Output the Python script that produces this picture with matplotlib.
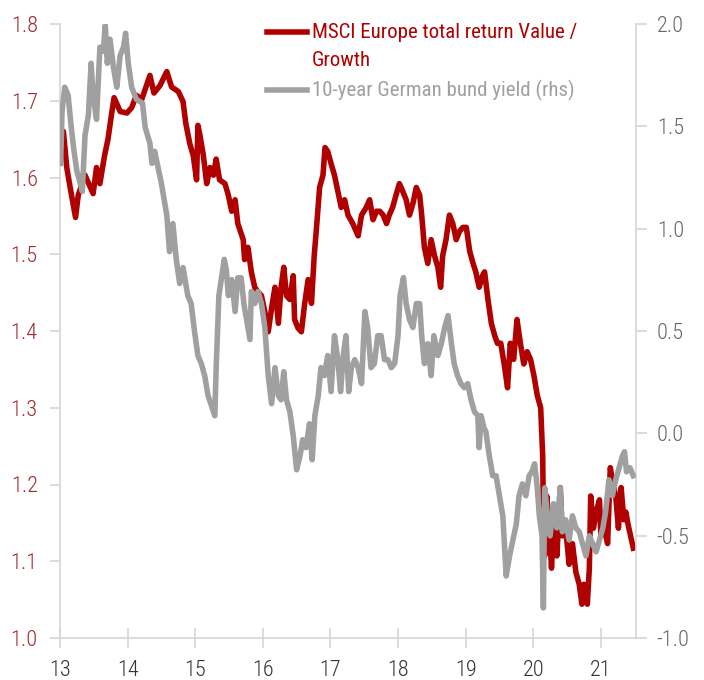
import matplotlib.pyplot as plt
from matplotlib.lines import Line2D

plt.rcParams['font.family'] = ['Roboto Condensed', 'Archivo Narrow', 'PT Sans Narrow',
                               'Liberation Sans Narrow', 'DejaVu Sans']

# MSCI Europe total return Value / Growth (lhs)
value_growth_x = [
    13.02, 13.05, 13.10, 13.15, 13.23, 13.27, 13.37, 13.49, 13.54, 13.59,
    13.66, 13.71, 13.76, 13.80, 13.89, 13.99, 14.06, 14.13, 14.21, 14.33,
    14.39, 14.48, 14.58, 14.65, 14.75, 14.82, 14.86, 14.92, 14.97, 15.02,
    15.04, 15.07, 15.12, 15.17, 15.22, 15.27, 15.31, 15.36, 15.44, 15.49,
    15.54, 15.59, 15.63, 15.71, 15.73, 15.78, 15.83, 15.88, 15.93, 15.98,
    16.03, 16.08, 16.13, 16.18, 16.23, 16.27, 16.31, 16.35, 16.40, 16.45,
    16.47, 16.52, 16.57, 16.62, 16.67, 16.72, 16.76, 16.79, 16.84, 16.89,
    16.92, 16.96, 17.01, 17.06, 17.11, 17.16, 17.21, 17.26, 17.33, 17.41,
    17.46, 17.53, 17.58, 17.63, 17.68, 17.73, 17.78, 17.83, 17.87, 17.92,
    17.97, 18.02, 18.07, 18.12, 18.17, 18.22, 18.27, 18.32, 18.35, 18.39,
    18.44, 18.49, 18.54, 18.59, 18.63, 18.66, 18.71, 18.76, 18.81, 18.86,
    18.91, 18.96, 19.01, 19.06, 19.11, 19.15, 19.20, 19.25, 19.28, 19.33,
    19.38, 19.43, 19.47, 19.52, 19.57, 19.62, 19.66, 19.71, 19.76, 19.81,
    19.86, 19.91, 19.96, 20.01, 20.06, 20.11, 20.14, 20.15, 20.17, 20.20,
    20.24, 20.27, 20.31, 20.35, 20.40, 20.43, 20.48, 20.53, 20.58, 20.63,
    20.68, 20.72, 20.75, 20.80, 20.83, 20.85, 20.89, 20.93, 20.98, 21.00,
    21.05, 21.10, 21.14, 21.17, 21.22, 21.26, 21.30, 21.34, 21.37, 21.40,
    21.44, 21.48,
]
value_growth = [
    1.640, 1.660, 1.613, 1.587, 1.548, 1.577, 1.603, 1.579, 1.613, 1.592,
    1.629, 1.650, 1.681, 1.704, 1.686, 1.684, 1.691, 1.707, 1.702, 1.733,
    1.710, 1.720, 1.738, 1.718, 1.712, 1.699, 1.671, 1.644, 1.629, 1.597,
    1.668, 1.655, 1.629, 1.592, 1.613, 1.603, 1.624, 1.597, 1.592, 1.577,
    1.556, 1.571, 1.540, 1.519, 1.493, 1.509, 1.477, 1.457, 1.451, 1.446,
    1.425, 1.399, 1.430, 1.457, 1.410, 1.457, 1.483, 1.446, 1.441, 1.472,
    1.415, 1.404, 1.399, 1.436, 1.467, 1.436, 1.498, 1.530, 1.587, 1.603,
    1.639, 1.634, 1.618, 1.603, 1.582, 1.561, 1.571, 1.551, 1.540, 1.524,
    1.551, 1.561, 1.571, 1.545, 1.556, 1.556, 1.551, 1.540, 1.551, 1.561,
    1.577, 1.592, 1.582, 1.571, 1.551, 1.566, 1.587, 1.577, 1.551, 1.509,
    1.488, 1.519, 1.498, 1.483, 1.457, 1.498, 1.519, 1.551, 1.540, 1.519,
    1.530, 1.535, 1.535, 1.504, 1.488, 1.477, 1.457, 1.472, 1.477, 1.441,
    1.410, 1.394, 1.384, 1.384, 1.357, 1.326, 1.384, 1.363, 1.415, 1.384,
    1.357, 1.373, 1.363, 1.342, 1.316, 1.300, 1.237, 1.159, 1.107, 1.185,
    1.143, 1.091, 1.159, 1.107, 1.196, 1.133, 1.143, 1.096, 1.123, 1.086,
    1.070, 1.044, 1.070, 1.044, 1.091, 1.185, 1.143, 1.164, 1.180, 1.133,
    1.143, 1.123, 1.222, 1.206, 1.185, 1.143, 1.196, 1.154, 1.164, 1.149,
    1.133, 1.117,
]

# 10-year German bund yield (rhs)
bund_x = [
    13.01, 13.03, 13.07, 13.12, 13.16, 13.20, 13.25, 13.30, 13.33, 13.37,
    13.42, 13.46, 13.49, 13.54, 13.59, 13.64, 13.67, 13.70, 13.74, 13.79,
    13.84, 13.89, 13.94, 13.97, 14.01, 14.06, 14.13, 14.22, 14.26, 14.33,
    14.36, 14.40, 14.45, 14.50, 14.58, 14.62, 14.67, 14.72, 14.77, 14.82,
    14.89, 14.94, 14.99, 15.04, 15.09, 15.14, 15.19, 15.27, 15.29, 15.31,
    15.35, 15.39, 15.43, 15.46, 15.49, 15.54, 15.59, 15.63, 15.68, 15.72,
    15.76, 15.81, 15.83, 15.88, 15.93, 15.98, 16.03, 16.08, 16.13, 16.18,
    16.23, 16.27, 16.31, 16.35, 16.40, 16.45, 16.50, 16.55, 16.59, 16.64,
    16.69, 16.73, 16.77, 16.82, 16.86, 16.91, 16.96, 17.01, 17.06, 17.11,
    17.15, 17.19, 17.23, 17.27, 17.31, 17.36, 17.41, 17.46, 17.51, 17.55,
    17.60, 17.65, 17.70, 17.75, 17.80, 17.85, 17.90, 17.95, 18.00, 18.03,
    18.08, 18.12, 18.17, 18.22, 18.27, 18.32, 18.35, 18.39, 18.44, 18.49,
    18.53, 18.59, 18.64, 18.69, 18.74, 18.79, 18.83, 18.88, 18.93, 18.98,
    19.03, 19.08, 19.13, 19.18, 19.20, 19.23, 19.27, 19.30, 19.35, 19.40,
    19.45, 19.50, 19.55, 19.60, 19.65, 19.70, 19.75, 19.79, 19.84, 19.89,
    19.94, 19.98, 20.02, 20.06, 20.09, 20.13, 20.15, 20.17, 20.21, 20.25,
    20.30, 20.35, 20.40, 20.43, 20.48, 20.53, 20.58, 20.63, 20.68, 20.73,
    20.78, 20.83, 20.88, 20.93, 20.98, 21.03, 21.07, 21.12, 21.17, 21.22,
    21.27, 21.32, 21.35, 21.38, 21.43, 21.48,
]
bund_yield = [
    1.319, 1.573, 1.691, 1.652, 1.515, 1.397, 1.280, 1.221, 1.182, 1.456,
    1.554, 1.808, 1.652, 1.534, 1.887, 1.867, 1.994, 1.808, 1.926, 1.789,
    1.691, 1.847, 1.887, 1.955, 1.808, 1.691, 1.632, 1.613, 1.495, 1.417,
    1.319, 1.378, 1.299, 1.221, 1.065, 0.888, 1.025, 0.849, 0.732, 0.810,
    0.673, 0.634, 0.497, 0.380, 0.341, 0.282, 0.184, 0.106, 0.086, 0.321,
    0.673, 0.761, 0.850, 0.800, 0.673, 0.751, 0.595, 0.760, 0.760, 0.634,
    0.556, 0.458, 0.693, 0.634, 0.693, 0.634, 0.517, 0.282, 0.145, 0.321,
    0.184, 0.164, 0.301, 0.164, 0.106, -0.012, -0.178, -0.110, -0.031, -0.070,
    0.047, -0.129, 0.086, 0.184, 0.321, 0.282, 0.380, 0.204, 0.477, 0.360,
    0.204, 0.380, 0.477, 0.204, 0.321, 0.360, 0.321, 0.243, 0.595, 0.517,
    0.321, 0.341, 0.477, 0.477, 0.360, 0.360, 0.321, 0.341, 0.477, 0.673,
    0.761, 0.634, 0.556, 0.517, 0.634, 0.634, 0.477, 0.341, 0.438, 0.282,
    0.477, 0.380, 0.438, 0.517, 0.575, 0.438, 0.341, 0.282, 0.243, 0.223,
    0.243, 0.164, 0.106, 0.086, -0.070, 0.086, 0.027, 0.008, -0.110, -0.207,
    -0.207, -0.305, -0.403, -0.697, -0.599, -0.521, -0.442, -0.305, -0.247, -0.305,
    -0.207, -0.188, -0.149, -0.266, -0.403, -0.501, -0.853, -0.266, -0.403, -0.501,
    -0.344, -0.462, -0.266, -0.481, -0.423, -0.521, -0.403, -0.462, -0.481, -0.540,
    -0.599, -0.501, -0.540, -0.579, -0.521, -0.462, -0.384, -0.227, -0.305, -0.227,
    -0.168, -0.110, -0.090, -0.188, -0.168, -0.207,
]

year_ticks = [13, 14, 15, 16, 17, 18, 19, 20, 21]
left_ticks = [1.0, 1.1, 1.2, 1.3, 1.4, 1.5, 1.6, 1.7, 1.8]
right_ticks = [-1.0, -0.5, 0.0, 0.5, 1.0, 1.5, 2.0]

red = '#b00000'
grey = '#a0a0a0'
spine_col = '#d6d6d6'

fig = plt.figure(figsize=(7.04, 6.80), dpi=100)
ax = fig.add_axes([60 / 704, 42 / 680, 576 / 704, 614 / 680])
ax2 = ax.twinx()

ax.plot(value_growth_x, value_growth, color=red, lw=4.0, solid_joinstyle='round', zorder=2)
ax2.plot(bund_x, bund_yield, color=grey, lw=4.0, solid_joinstyle='round', zorder=3)

ax.set_xlim(13.0, 21.52)
ax.set_ylim(1.0, 1.8)
ax2.set_ylim(-1.0, 2.0)

ax.set_xticks(year_ticks)
ax.set_xticklabels([str(y) for y in year_ticks])
ax.set_yticks(left_ticks)
ax.set_yticklabels([f'{v:.1f}' for v in left_ticks])
ax2.set_yticks(right_ticks)
ax2.set_yticklabels([f'{v:.1f}' for v in right_ticks])

for a in (ax, ax2):
    for s in a.spines.values():
        s.set_color(spine_col)
        s.set_linewidth(1.2)
    a.spines['top'].set_visible(False)
ax.spines['right'].set_visible(False)
ax2.spines['left'].set_visible(False)
ax2.spines['bottom'].set_visible(False)

ax.tick_params(axis='x', direction='inout', length=14, width=1.2, color=spine_col,
               labelsize=16, labelcolor='#333333', pad=9)
ax.tick_params(axis='y', direction='out', length=7, width=1.2, color=spine_col,
               labelsize=16, labelcolor='#a3282d', pad=9)
ax2.tick_params(axis='y', direction='out', length=8, width=1.2, color=spine_col,
                labelsize=16, labelcolor='#666666', pad=7)
for lab in ax.get_xticklabels() + ax.get_yticklabels() + ax2.get_yticklabels():
    lab.set_fontweight('light')

# legend drawn by hand so the handle sits on the first text line
fig.add_artist(Line2D([267 / 704, 307 / 704], [1 - 32 / 680, 1 - 32 / 680],
                      color=red, lw=4.0))
fig.add_artist(Line2D([267 / 704, 307 / 704], [1 - 90 / 680, 1 - 90 / 680],
                      color=grey, lw=4.0))
fig.text(312 / 704, 1 - 33 / 680, 'MSCI Europe total return Value /', color=red,
         fontsize=15, va='center', ha='left')
fig.text(312 / 704, 1 - 61 / 680, 'Growth', color=red,
         fontsize=15, va='center', ha='left')
fig.text(312 / 704, 1 - 90 / 680, '10-year German bund yield (rhs)', color=grey,
         fontsize=15, va='center', ha='left')

fig.savefig('out.png', dpi=100)
